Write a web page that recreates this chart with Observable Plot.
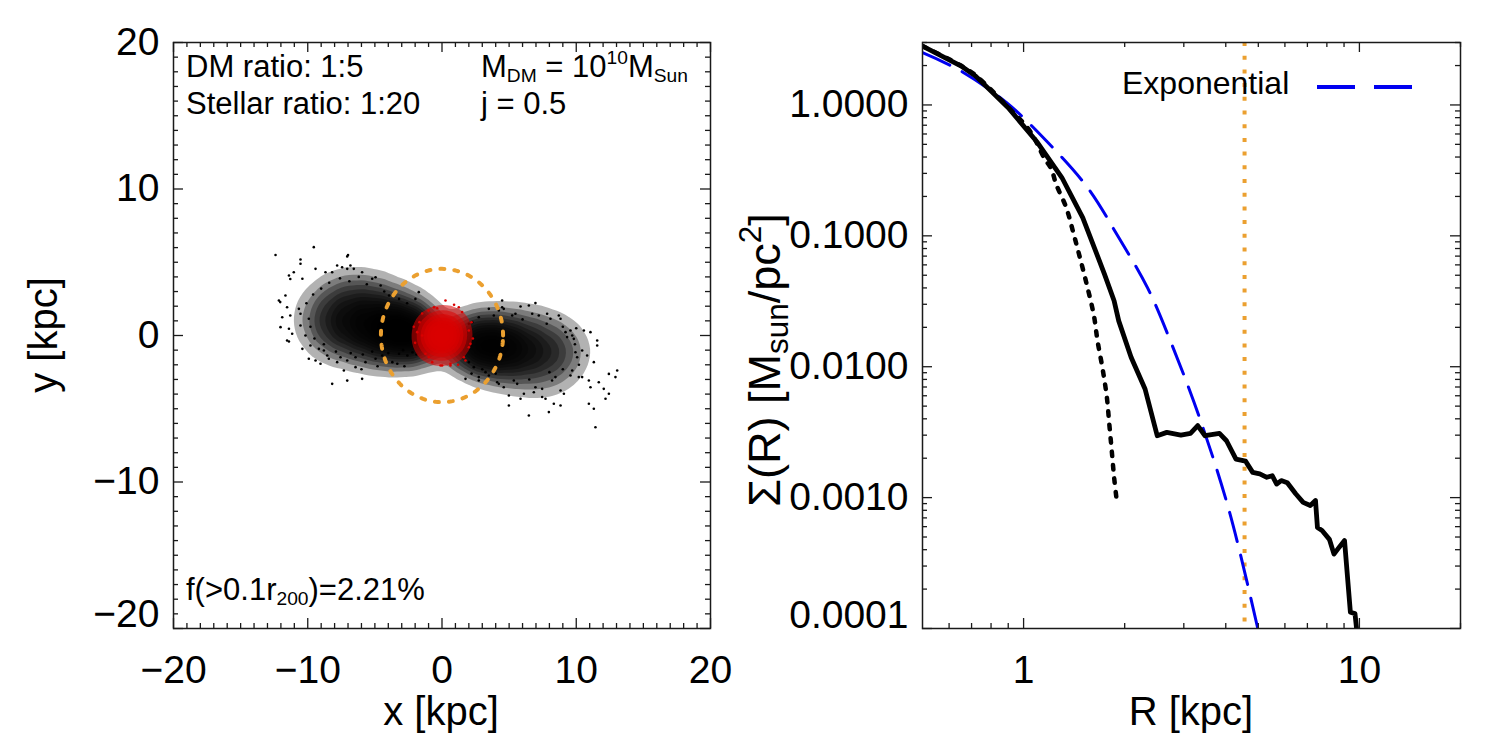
<!DOCTYPE html>
<html><head><meta charset="utf-8">
<script src="https://cdn.jsdelivr.net/npm/d3@7"></script>
<script src="https://cdn.jsdelivr.net/npm/@observablehq/plot@0.6"></script>
<style>
body{margin:0;background:#fff;}
#wrap{position:relative;width:1500px;height:750px;background:#fff;}
#wrap svg{position:absolute;top:0;overflow:visible;}
</style></head><body><div id="wrap"></div>
<script>
// ---------------- DATA ----------------
// Left panel: projected particle positions [x kpc, y kpc]
// density anchors of the black (dark matter) cloud: [x, y, relative density]
const blackCloud = [
  [-8,3.5,1],[-6.5,3.5,1.5],[-5,3.5,1],[-3.5,3.2,0.5],
  [-9.5,2.5,1],[-8,2.5,2.5],[-6.5,2.5,3],[-5,2.5,3],[-3.5,2.3,2],[-2,2.2,1],
  [-10,1.5,1],[-8.5,1.5,3],[-7,1.5,4],[-5.5,1.5,5],[-4,1.4,5],[-2.5,1.3,4],[-1.5,1.2,2],
  [-10,0.5,1],[-8.5,0.5,3],[-7,0.5,4.5],[-5.5,0.5,6],[-4,0.4,8],[-2.5,0.3,8],[-1.5,0.2,6],
  [-9,-0.5,1.5],[-7.5,-0.5,2.5],[-6,-0.5,3.5],[-4.5,-0.5,5],[-3,-0.5,6],[-1.5,-0.6,5],
  [-8,-1.5,0.5],[-6,-1.5,1],[-4.5,-1.5,1.5],[-3,-1.5,1.5],[-1.5,-1.5,1],
  [3,1.4,0.5],[5,1.4,1],[7,1.3,1],[9,1.1,0.5],
  [2,0.4,3],[3.5,0.4,4],[5,0.3,3.5],[6.5,0.2,2.5],[8,0.1,2],[9.5,0,1],
  [1.5,-0.5,6],[3,-0.5,8],[4.5,-0.6,7],[6,-0.7,4],[7.5,-0.8,3],[9,-0.9,2],[10.5,-1,0.7],
  [2,-1.4,4],[3.5,-1.5,6],[5,-1.5,5],[6.5,-1.6,3.5],[8,-1.7,2.5],[9.5,-1.8,1.5],
  [3,-2.5,1],[4.5,-2.5,1.5],[6,-2.6,2],[7.5,-2.6,1.5],[9,-2.7,1],
  [5,-3.5,0.5],[7,-3.6,0.7],[8.5,-3.5,0.5]
];
// individual sparse black particles [x, y]
const blackDots = [
  [-12.4,5.5],[-9.55,6.03],[-10.54,5.19],[-10.54,4.9],[-7.0,5.5],[-7.06,5.4],[-11.04,4.32],[-11.4,4.1],
  [-11.3,3.86],[-10.4,3.87],[-9.42,4.55],[-8.68,4.32],[-8.18,4.32],[-7.81,4.78],[-7.44,4.66],[-7.06,4.55],
  [-6.82,4.78],[-6.57,4.55],[-5.95,4.32],[-5.2,3.87],[-4.95,3.98],[-4.57,3.41],[-3.94,2.73],[-3.57,2.84],
  [-1.73,2.96],[-1.98,2.5],[-12.15,2.39],[-12.05,2.28],[-11.66,2.73],[-11.54,1.93],[-11.9,1.25],[-11.3,1.37],
  [-10.66,1.82],[-10.54,1.48],[-12.03,0.57],[-11.4,0.46],[-10.54,0.68],[-11.16,0.12],[-9.92,1.14],[-10.17,0.0],
  [-11.54,-0.34],[-11.4,-0.41],[-10.4,-0.91],[-9.8,-0.68],[-9.17,-0.91],[-8.8,-1.02],[-9.92,-1.59],[-9.42,-1.71],
  [-8.43,-1.59],[-7.81,-1.82],[-7.06,-1.71],[-7.56,-1.48],[-6.44,-1.48],[-5.7,-1.82],[-4.95,-1.59],[-4.45,-1.37],
  [-3.7,-1.82],[-3.33,-1.93],[-3.2,-1.25],[-2.58,-1.37],[-2.2,-1.14],[-7.31,-2.39],[-6.44,-2.16],[-8.18,-3.3],
  [-7.06,-3.08],[-5.95,-2.96],[-3.82,-2.5],[-8.55,-1.37],[-9.05,-1.93],
  [-9.0,3.2],[-8.4,3.6],[-7.6,3.9],[-6.9,3.7],[-6.2,4.0],[-5.6,3.5],[-4.3,3.0],[-3.2,2.5],[-2.6,2.2],
  [-9.6,2.8],[-10.1,2.2],[-9.8,0.6],[-9.5,-0.2],[-8.8,-0.6],[-7.9,-1.1],[-6.8,-1.2],[-5.9,-1.3],[-5.2,-1.1],
  [-4.0,-1.2],[-2.9,-1.0],[-1.9,-1.3],[-6.0,-2.3],[-4.8,-2.1],[-2.8,-2.1],
  [5.85,1.98],[6.47,2.05],[6.96,2.21],[4.48,2.39],[4.48,1.93],[4.6,1.82],[5.47,1.48],[5.23,1.37],[6.72,1.48],
  [7.83,1.48],[8.7,1.37],[8.83,1.14],[9.57,0.34],[9.7,0.0],[9.82,-0.23],[10.57,0.34],[11.06,0.23],
  [11.56,-0.34],[11.56,-0.68],[10.44,-1.02],[9.94,-1.14],[10.07,-1.48],[10.81,-1.37],[11.31,-1.82],[9.7,-2.39],
  [9.57,-2.73],[10.19,-2.84],[10.44,-2.84],[10.94,-3.07],[11.68,-3.19],[12.43,-2.62],[13.05,-2.39],[12.92,-2.84],
  [11.06,-3.53],[12.05,-3.64],[12.43,-3.98],[12.18,-4.32],[10.94,-4.66],[11.31,-5.0],[11.43,-6.26],[6.47,-5.46],
  [7.96,-5.23],[8.33,-4.66],[8.83,-4.78],[9.08,-3.98],[8.83,-3.75],[7.46,-4.2],[7.71,-4.32],[6.84,-3.87],
  [6.1,-3.98],[5.85,-4.32],[4.98,-4.1],[4.98,-4.78],[4.6,-3.53],[4.11,-3.19],[4.23,-3.3],[2.74,-2.84],
  [2.74,-3.07],[1.75,-2.96],[2.0,-1.82],[2.37,-2.16],[3.24,-2.5],[3.49,-2.73],[5.35,-3.07],[5.6,-3.3],
  [6.96,-3.53],[7.46,-3.64],[8.2,-3.07],[8.45,-2.84],[3.49,1.82],[3.86,1.37],[2.74,1.25],[2.25,0.91],
  [2.0,0.8],[4.23,1.71],[7.21,1.37],[8.08,1.14],[9.2,0.23],[9.32,-0.11],
  [9.9,-0.6],[10.2,-2.0],[9.0,-2.3],[8.0,-2.5],[6.5,-3.0],[4.0,-2.6],[3.0,-2.3],[2.2,-2.6],[7.8,0.8],
  [6.0,1.1],[9.0,0.6],[10.0,0.5]
];
// density anchors of the red (stellar) core: [x, y, relative density]
const redCloud = [
  [0,0,8],[-0.7,0.3,4],[0.7,-0.3,4],[0.2,0.8,3],[-0.2,-0.8,3],[-0.8,-0.5,2],[0.8,0.5,2]
];
// sparse red particles [x, y]
const redDots = [
  [0.26,2.39],[1.25,1.93],[2.0,-0.8],[2.12,-0.57],[0.63,-1.93],[0.01,-2.05],[1.63,-1.48],[1.75,-1.71],
  [2.0,0.34],[-1.68,0.91],[-1.48,0.0],[-1.85,0.23],[-0.6,1.93],[-0.36,1.86],[-1.23,-1.25],[-0.98,-1.48],
  [-0.73,-1.82],[-0.11,-2.05],[0.63,-2.05],[-1.48,1.5],[1.5,1.6],[2.2,0.9],[-2.0,-0.5],[0.9,2.1],
  [-1.0,1.7],[1.2,-2.0],[2.3,-0.2],[-2.1,0.6]
];
const circleRadius = 4.55;          // 0.1 r200 [kpc]

// Right panel: surface density profiles
const profileR     = [0.50,0.65,0.72,0.90,1.10,1.30,1.50,1.74,1.86,1.92,2.09,2.30,2.50,2.67,2.94,3.14,3.30,3.47,3.83,4.02,4.29,4.58,4.81,5.05,5.30,5.50,5.67,5.85,6.10,6.46,6.80,7.14,7.40,7.50,7.74,8.14,8.40,8.72,9.03,9.40,9.70,9.90];
const profileSigma = [2.82,1.99,1.66,0.953,0.516,0.279,0.138,0.0513,0.0319,0.0224,0.0118,0.00676,0.00297,0.00315,0.00300,0.00310,0.00355,0.00297,0.00310,0.00272,0.00197,0.00190,0.00156,0.00152,0.00143,0.00147,0.00127,0.00135,0.00130,0.00107,0.00092,0.00087,0.00095,0.00059,0.00056,0.00048,0.00037,0.00042,0.00047,0.000133,0.000130,0.00008];
const dottedR      = [0.50,0.65,0.72,0.90,1.05,1.15,1.21,1.25,1.34,1.41,1.48,1.55,1.62,1.66,1.72,1.77,1.80,1.83,1.86,1.90];
const dottedSigma  = [2.82,2.00,1.68,0.96,0.62,0.396,0.323,0.248,0.164,0.103,0.0644,0.0403,0.0245,0.0158,0.00955,0.00583,0.00363,0.00229,0.00143,0.000885];
const expR         = [0.50,0.65,0.89,1.17,1.55,1.92,2.34,2.76,3.35,4.09,4.96,5.05];
const expSigma     = [2.51,1.82,1.04,0.53,0.234,0.097,0.040,0.0149,0.0040,0.00080,0.000105,0.000085];
const markerR = 4.55;               // vertical marker [kpc]

// tick labels
const linTicks = [-20,-10,0,10,20];
const logTicksX = [1,10];
const logTicksY = [0.0001,0.001,0.01,0.1,1];

// ---------------- STYLE ----------------
const FONT = "'Liberation Sans', Arial, Helvetica, sans-serif";
const ORANGE = "#EBA030", RED = "#DA0000", BLUE = "#0000F0", FRAME = "#1a1a1a";
const W = 750, H = 750, mT = 42, mB = 122, mR = 40;
const innerH = H - mT - mB;
const TICK_FS = 39, TITLE_FS = 40, NOTE_FS = 31;

function tickRules(innerW, majX, minX, majY, minY) {
  const o = {stroke: FRAME, strokeWidth: 1.3};
  const MJ = 10, MN = 5;
  return [
    Plot.ruleX(majX, {...o, insetTop: innerH - MJ}),
    Plot.ruleX(majX, {...o, insetBottom: innerH - MJ}),
    Plot.ruleX(minX, {...o, insetTop: innerH - MN}),
    Plot.ruleX(minX, {...o, insetBottom: innerH - MN}),
    Plot.ruleY(majY, {...o, insetRight: innerW - MJ}),
    Plot.ruleY(majY, {...o, insetLeft: innerW - MJ}),
    Plot.ruleY(minY, {...o, insetRight: innerW - MN}),
    Plot.ruleY(minY, {...o, insetLeft: innerW - MN})
  ];
}

function rich(svg, x, y, parts, size, opts = {}) {
  const t = d3.select(svg).append("text")
    .attr("x", x).attr("y", y)
    .attr("font-size", size).attr("font-family", FONT).attr("fill", "black")
    .attr("text-anchor", opts.anchor || "start")
    .style("white-space", "pre");
  if (opts.rotate) t.attr("transform", `rotate(-90 ${x} ${y})`);
  const subScale = opts.subScale || 0.62;
  let shift = 0;
  for (const p of parts) {
    const [s, kind] = Array.isArray(p) ? p : [p, null];
    const ts = t.append("tspan").text(s);
    const target = kind === "sub" ? size * 0.17 : kind === "sup" ? -size * 0.42 : 0;
    ts.attr("dy", target - shift);
    shift = target;
    if (kind) ts.attr("font-size", size * subScale);
  }
}

const wrap = document.getElementById("wrap");

// ---------------- LEFT PANEL ----------------
{
  const mL = 173, innerW = W - mL - mR;
  const minor = d3.range(-20, 21, 1).filter(v => !linTicks.includes(v));
  const circle = d3.range(0, 361, 2).map(a => [circleRadius * Math.cos(a * Math.PI / 180), circleRadius * Math.sin(a * Math.PI / 180)]);
  const svg = Plot.plot({
    width: W, height: H, marginLeft: mL, marginRight: mR, marginTop: mT, marginBottom: mB,
    x: {domain: [-20, 20]}, y: {domain: [-20, 20]},
    style: {fontFamily: FONT, fontSize: TICK_FS + "px", background: "white", color: "black", overflow: "visible"},
    marks: [
      Plot.density(blackCloud, {x: d => d[0], y: d => d[1], weight: d => d[2], bandwidth: 13, thresholds: 16, fill: "black", fillOpacity: 0.3, stroke: "none"}),
      Plot.dot(blackDots, {x: d => d[0], y: d => d[1], r: 1.3, fill: "black", stroke: "none"}),
      Plot.density(redCloud, {x: d => d[0], y: d => d[1], weight: d => d[2], bandwidth: 11, thresholds: 8, fill: RED, fillOpacity: 0.55, stroke: "none"}),
      Plot.dot(redDots, {x: d => d[0], y: d => d[1], r: 1.3, fill: RED, stroke: "none"}),
      Plot.line(circle, {x: d => d[0], y: d => d[1], stroke: ORANGE, strokeWidth: 4, strokeDasharray: "4,10"}),
      Plot.frame({stroke: FRAME, strokeWidth: 1.5}),
      ...tickRules(innerW, linTicks, minor, linTicks, minor),
      Plot.axisX({ticks: linTicks, tickSize: 0, tickPadding: 27, label: null}),
      Plot.axisY({ticks: linTicks.filter(v => v !== -20), tickSize: 0, tickPadding: 14, label: null}),
      Plot.axisY({ticks: [-20], tickSize: 0, tickPadding: 14, label: null, dy: -14})
    ]
  });
  svg.style.left = "0px";
  wrap.appendChild(svg);
  rich(svg, 186, 77, ["DM ratio: 1:5"], NOTE_FS);
  rich(svg, 186, 114, ["Stellar ratio: 1:20"], NOTE_FS);
  rich(svg, 481, 77, ["M", ["DM", "sub"], " = 10", ["10", "sup"], "M", ["Sun", "sub"]], NOTE_FS);
  rich(svg, 481, 114, ["j = 0.5"], NOTE_FS);
  rich(svg, 186, 600, ["f(>0.1r", ["200", "sub"], ")=2.21%"], NOTE_FS);
  rich(svg, 441, 725, ["x [kpc]"], TITLE_FS, {anchor: "middle"});
  rich(svg, 57, 335, ["y [kpc]"], TITLE_FS, {anchor: "middle", rotate: true});
}

// ---------------- RIGHT PANEL ----------------
{
  const mL = 172, innerW = W - mL - mR;
  const minorX = [0.6, 0.7, 0.8, 0.9, 2, 3, 4, 5, 6, 7, 8, 9, 20];
  const minorY = [];
  for (const t of logTicksY) for (const k of [2,3,4,5,6,7,8,9]) if (k * t <= 3) minorY.push(k * t);
  const solid = profileR.map((r, i) => [r, profileSigma[i]]);
  const dotted = dottedR.map((r, i) => [r, dottedSigma[i]]);
  const expo = expR.map((r, i) => [r, expSigma[i]]);
  const svg = Plot.plot({
    width: W, height: H, marginLeft: mL, marginRight: mR, marginTop: mT, marginBottom: mB,
    x: {type: "log", domain: [0.5, 20]}, y: {type: "log", domain: [0.0001, 3]},
    style: {fontFamily: FONT, fontSize: TICK_FS + "px", background: "white", color: "black", overflow: "visible"},
    marks: [
      Plot.ruleX([markerR], {stroke: ORANGE, strokeWidth: 4, strokeDasharray: "4,9.7"}),
      Plot.line(expo, {x: d => d[0], y: d => d[1], stroke: BLUE, strokeWidth: 3, strokeDasharray: "30,14", curve: "catmull-rom", clip: true}),
      Plot.line(dotted, {x: d => d[0], y: d => d[1], stroke: "black", strokeWidth: 4.5, strokeDasharray: "4.5,9", curve: "catmull-rom", clip: true}),
      Plot.line(solid, {x: d => d[0], y: d => d[1], stroke: "black", strokeWidth: 4.8, strokeLinejoin: "round", clip: true}),
      Plot.frame({stroke: FRAME, strokeWidth: 1.5}),
      ...tickRules(innerW, logTicksX, minorX, logTicksY, minorY),
      Plot.axisX({ticks: logTicksX, tickSize: 0, tickPadding: 27, label: null, tickFormat: d => String(d)}),
      Plot.axisY({ticks: logTicksY.filter(v => v !== 0.0001), tickSize: 0, tickPadding: 14, label: null, tickFormat: d3.format(".4f")}),
      Plot.axisY({ticks: [0.0001], tickSize: 0, tickPadding: 14, label: null, dy: -13, tickFormat: d3.format(".4f")})
    ]
  });
  svg.style.left = "750px";
  wrap.appendChild(svg);
  rich(svg, 372, 94, ["Exponential"], 32);
  d3.select(svg).append("line").attr("x1", 567).attr("x2", 665).attr("y1", 87).attr("y2", 87)
    .attr("stroke", BLUE).attr("stroke-width", 4).attr("stroke-dasharray", "38,19");
  rich(svg, 441, 725, ["R [kpc]"], TITLE_FS, {anchor: "middle"});
  rich(svg, 30, 360, ["Σ(R) [M", ["sun", "sub"], "/pc", ["2", "sup"], "]"], 45, {anchor: "middle", rotate: true, subScale: 0.7});
}
</script></body></html>
